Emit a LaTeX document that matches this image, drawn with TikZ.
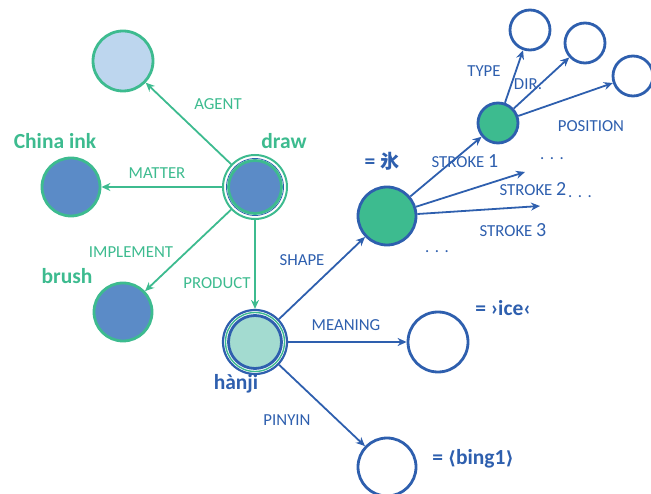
\documentclass[tikz,border=0pt]{standalone}
\usepackage{fontspec}
\setmainfont{Carlito}
\newfontfamily\cjk{Noto Sans CJK JP}
\newfontfamily\dvs{DejaVu Sans}
\usetikzlibrary{arrows.meta}
\definecolor{gr}{HTML}{3DBB8F}
\definecolor{bl}{HTML}{2E5FAE}
\definecolor{blfill}{HTML}{5B8BC7}
\definecolor{ltbl}{HTML}{BDD6EE}
\definecolor{tealfill}{HTML}{A3DBD0}
\newcommand{\bigdig}[1]{{\fontsize{20}{22}\selectfont #1}}
\tikzset{
  circ/.style={circle, inner sep=0pt, line width=2.8pt},
  gline/.style={draw=gr, line width=1.8pt, -{Stealth[length=9pt,width=8pt]}},
  bline/.style={draw=bl, line width=1.8pt, -{Stealth[length=9pt,width=8pt]}},
  glab/.style={text=gr, font=\fontsize{16.8}{19}\selectfont},
  blab/.style={text=bl, font=\fontsize{16.8}{19}\selectfont},
  gbig/.style={text=gr, font=\fontsize{21.5}{24}\selectfont\bfseries},
  bbig/.style={text=bl, font=\fontsize{21.5}{24}\selectfont\bfseries},
  dots/.style={text=bl, font=\fontsize{16.8}{19}\selectfont},
}
\begin{document}
\begin{tikzpicture}[x=1pt,y=-1pt]
\useasboundingbox (0,0) rectangle (651,494);
% green cluster
\node[circ, draw=gr, fill=ltbl, minimum size=60pt] (agent) at (123,61) {};
\node[circ, draw=gr, fill=blfill, minimum size=58pt] (ink) at (71,187) {};
\node[circ, draw=gr, fill=blfill, minimum size=58pt] (brush) at (123,312) {};
\node[circle, inner sep=0pt, draw=gr, line width=2pt, minimum size=64pt] (draw) at (255,187) {};
\node[circle, inner sep=0pt, draw=bl, line width=0.8pt, minimum size=57pt] (drawmid) at (255,187) {};
\node[circ, draw=gr, fill=blfill, minimum size=53pt] (drawin) at (255,187) {};
% hanji
\node[circle, inner sep=0pt, draw=bl, line width=2.2pt, minimum size=64pt] (hanji) at (255,342) {};
\node[circle, inner sep=0pt, draw=gr, line width=1.4pt, minimum size=59pt] (hanjimid) at (255,342) {};
\node[circ, draw=bl, fill=tealfill, minimum size=53pt] (hanjiin) at (255,342) {};
% blue cluster
\node[circ, draw=bl, fill=gr, minimum size=58pt] (shape) at (387,216) {};
\node[circ, draw=bl, fill=gr, minimum size=40pt] (s1) at (498,123) {};
\node[circ, draw=bl, fill=white, minimum size=40pt] (type) at (530,30) {};
\node[circ, draw=bl, fill=white, minimum size=40pt] (dir) at (585,43) {};
\node[circ, draw=bl, fill=white, minimum size=40pt] (pos) at (633,76) {};
\node[circ, draw=bl, fill=white, minimum size=60pt] (meaning) at (438,342) {};
\node[circ, draw=bl, fill=white, minimum size=58pt] (pinyin) at (387,467) {};
\coordinate (s2end) at (525,172);
\coordinate (s3end) at (540,206);
% connectors
\draw[gline] (draw) -- (agent);
\draw[gline] (draw) -- (ink);
\draw[gline] (draw) -- (brush);
\draw[gline] (draw) -- (hanji);
\draw[bline] (hanji) -- (shape);
\draw[bline] (hanji) -- (meaning);
\draw[bline] (hanji) -- (pinyin);
\draw[bline] (shape) -- (s1);
\draw[bline] (shape) -- (s2end);
\draw[bline] (shape) -- (s3end);
\draw[bline] (s1) -- (type);
\draw[bline] (s1) -- (dir);
\draw[bline] (s1) -- (pos);
% labels
\node[glab] (lagent) at (218,104) {AGENT};
\node[glab] (lmatter) at (157,173) {MATTER};
\node[glab] (limpl) at (131,252) {IMPLEMENT};
\node[glab] (lprod) at (217,283) {PRODUCT};
\node[gbig] (tink) at (55,141) {China ink};
\node[gbig] (tdraw) at (284,141) {draw};
\node[gbig] (tbrush) at (67,276) {brush};
\node[bbig] (thanji) at (236,384) {hànji};
\node[blab] (lshape) at (302,260) {SHAPE};
\node[blab] (lmeaning) at (346,325) {MEANING};
\node[blab] (lpinyin) at (287,420) {PINYIN};
\node[blab] (ls1) at (465,161) {STROKE \bigdig{1}};
\node[blab] (ls2) at (533,189) {STROKE \bigdig{2}};
\node[blab] (ls3) at (513,230) {STROKE \bigdig{3}};
\node[blab] (ltype) at (484,71) {TYPE};
\node[blab] (ldir) at (528,84) {DIR.};
\node[blab] (lpos) at (591,126) {POSITION};
\node[dots] (d1) at (552,159) {.\,\,.\,\,.};
\node[dots] (d2) at (580,197) {.\,\,.\,\,.};
\node[dots] (d3) at (437,252) {.\,\,.\,\,.};
\node[bbig] (tice) at (382,161) {= {\cjk\bfseries\fontsize{19}{22}\selectfont 氷}};
\node[bbig] (tmean) at (503,308) {= ›ice‹};
\node[bbig] (tpin) at (473,459) {= {\dvs\fontsize{18}{22}\selectfont ⟨}bing1{\dvs\fontsize{18}{22}\selectfont ⟩}};
\end{tikzpicture}
\end{document}
